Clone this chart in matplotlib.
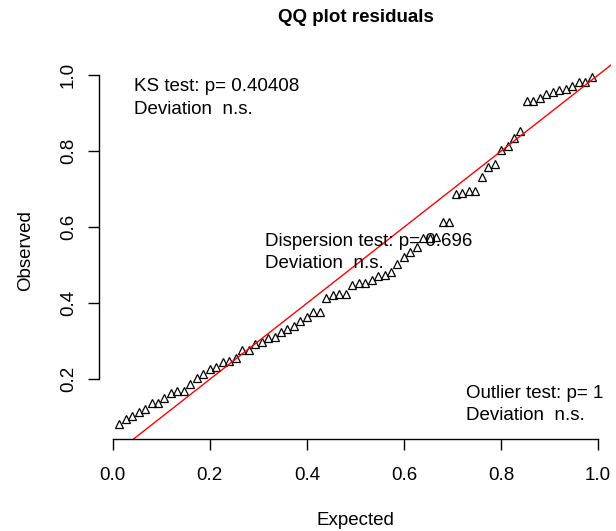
import numpy as np
import matplotlib
matplotlib.use("Agg")
import matplotlib.pyplot as plt

# sorted scaled residuals
observed = [
    0.082, 0.095, 0.103, 0.115, 0.123, 0.138, 0.138, 0.151, 0.163, 0.170,
    0.170, 0.187, 0.204, 0.213, 0.227, 0.232, 0.246, 0.248, 0.255, 0.277,
    0.277, 0.292, 0.297, 0.308, 0.312, 0.324, 0.332, 0.340, 0.353, 0.365,
    0.377, 0.377, 0.413, 0.421, 0.425, 0.425, 0.448, 0.453, 0.453, 0.461,
    0.472, 0.473, 0.482, 0.502, 0.521, 0.536, 0.549, 0.571, 0.572, 0.575,
    0.613, 0.613, 0.686, 0.690, 0.694, 0.694, 0.731, 0.759, 0.767, 0.803,
    0.814, 0.834, 0.852, 0.931, 0.931, 0.939, 0.949, 0.955, 0.962, 0.963,
    0.971, 0.983, 0.983, 0.996,
]

ks_text = ["KS test: p= 0.40408", "Deviation  n.s."]
disp_text = ["Dispersion test: p= 0.696", "Deviation  n.s."]
outl_text = ["Outlier test: p= 1", "Deviation  n.s."]

x_ticks = [0.0, 0.2, 0.4, 0.6, 0.8, 1.0]
y_ticks = [0.2, 0.4, 0.6, 0.8, 1.0]

plt.rcParams["font.family"] = ["Liberation Sans", "DejaVu Sans"]
FS = 13.5

W, H = 616, 531
fig = plt.figure(figsize=(W / 100, H / 100), dpi=100)
ax = fig.add_axes([99.3 / W, 1 - 439 / H, (611 - 99.3) / W, (439 - 63.1) / H])

obs = np.array(observed)
n = len(obs)
expected = np.arange(1, n + 1) / (n + 1)

ax.plot(expected, obs, linestyle="none", marker="^", markersize=5.4,
        markerfacecolor="none", markeredgecolor="black", markeredgewidth=0.9)
ax.axline((0, 0), slope=1, color="red", lw=1.0)

ax.set_xlim(-0.0276, 1.0265)
ax.set_ylim(0.043, 1.0315)

for s in ["top", "right"]:
    ax.spines[s].set_visible(False)
ax.spines["left"].set_bounds(0.2, 1.0)
ax.spines["bottom"].set_bounds(0.0, 1.0)
for s in ["left", "bottom"]:
    ax.spines[s].set_linewidth(1.0)

ax.set_xticks(x_ticks)
ax.set_xticklabels([f"{v:.1f}" for v in x_ticks])
ax.set_yticks(y_ticks)
ax.set_yticklabels([f"{v:.1f}" for v in y_ticks], rotation=90, va="center")
ax.tick_params(axis="x", length=8, width=1.0, labelsize=FS, pad=12)
ax.tick_params(axis="y", length=8, width=1.0, labelsize=FS, pad=8)

ax.set_xlabel("Expected", fontsize=FS, labelpad=20)
ax.set_ylabel("Observed", fontsize=FS, labelpad=19)

fig.text(356 / W, 1 - 18 / H, "QQ plot residuals", ha="center", va="center",
         fontsize=FS, fontweight="bold")


def block(x, y, lines):
    for i, t in enumerate(lines):
        fig.text(x / W, 1 - (y + 22 * i) / H, t, ha="left", va="center",
                 fontsize=FS)


block(134, 87, ks_text)
block(265, 241, disp_text)
block(466, 393, outl_text)

fig.savefig("out.png", dpi=100)
